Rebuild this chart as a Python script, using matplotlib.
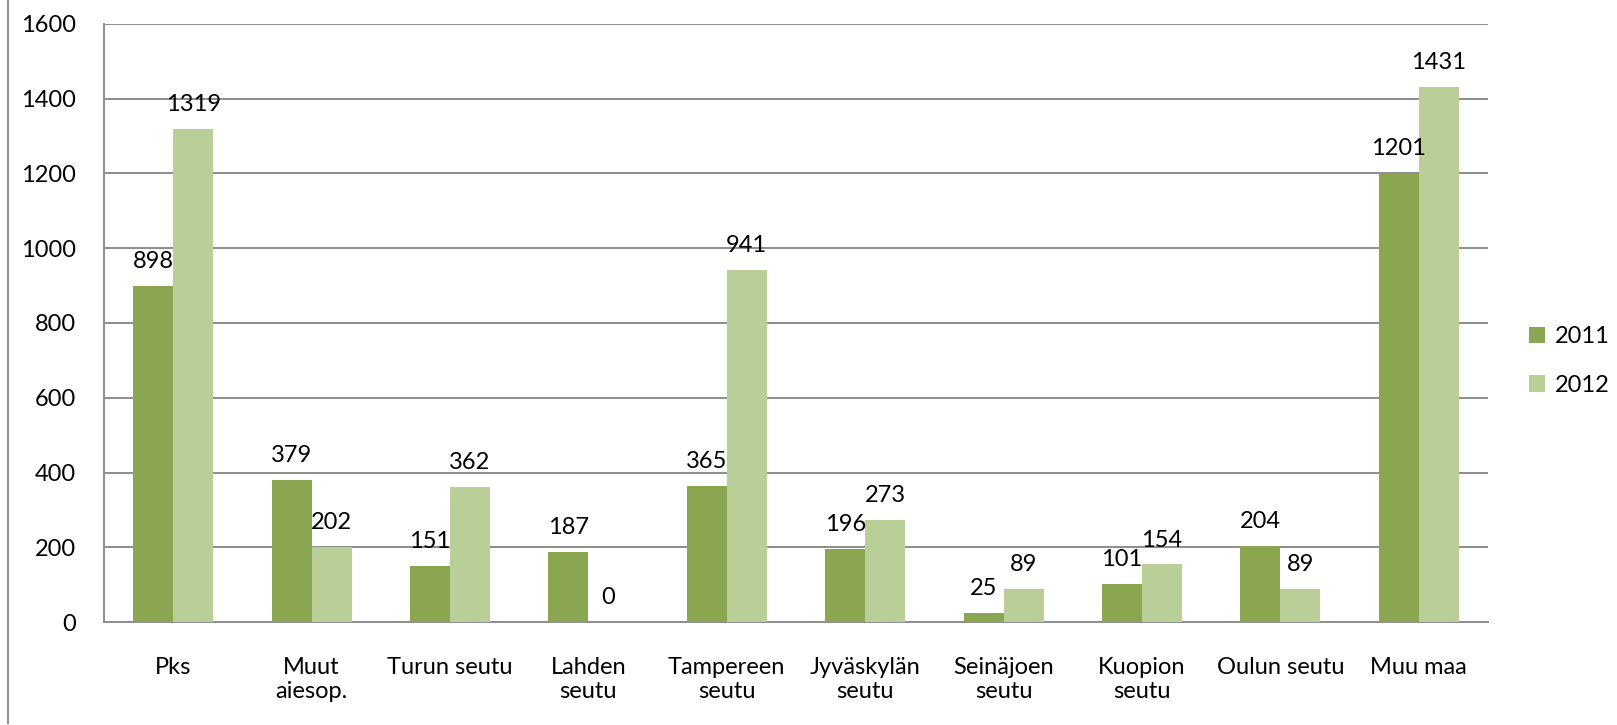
import numpy as np
import matplotlib
matplotlib.use('Agg')
import matplotlib.pyplot as plt
from matplotlib.lines import Line2D

plt.rcParams['font.family'] = ['Lato', 'DejaVu Sans']

# data
categories = ['Pks', 'Muut\naiesop.', 'Turun seutu', 'Lahden\nseutu', 'Tampereen\nseutu',
              'Jyväskylän\nseutu', 'Seinäjoen\nseutu', 'Kuopion\nseutu', 'Oulun seutu', 'Muu maa']
v2011 = [898, 379, 151, 187, 365, 196, 25, 101, 204, 1201]
v2012 = [1319, 202, 362, 0, 941, 273, 89, 154, 89, 1431]
series_names = ['2011', '2012']

c2011 = '#8AA650'
c2012 = '#BACF97'
fs = 17

fig = plt.figure(figsize=(16.17, 7.25), dpi=100)
ax = fig.add_axes([0.0643, 0.142, 0.9202 - 0.0643, 0.967 - 0.142])

x = np.arange(len(categories))
w = 0.289
b1 = ax.bar(x - w / 2, v2011, w, color=c2011, label=series_names[0], zorder=3)
b2 = ax.bar(x + w / 2, v2012, w, color=c2012, label=series_names[1], zorder=3)

# value labels above the bars
for bars, vals in [(b1, v2011), (b2, v2012)]:
    for r, v in zip(bars, vals):
        ax.annotate(str(v), (r.get_x() + r.get_width() / 2, v), xytext=(0, 10),
                    textcoords='offset points', ha='center', va='bottom', fontsize=fs)

ax.set_xlim(-0.5, len(categories) - 0.5)
ax.set_ylim(0, 1600)
ax.set_yticks(range(0, 1601, 200))
ax.set_xticks(x)
ax.set_xticklabels(categories, fontsize=fs, linespacing=1.2, va='top')
ax.tick_params(axis='y', length=0, pad=20, labelsize=fs)
ax.tick_params(axis='x', length=0, pad=25)
ax.grid(axis='y', color='#8c8c8c', linewidth=1.4, zorder=0)
for s in ['top', 'right']:
    ax.spines[s].set_visible(False)
for s in ['left', 'bottom']:
    ax.spines[s].set_color('#8c8c8c')
    ax.spines[s].set_linewidth(1.4)

fig.legend(handles=[b1, b2], loc='center left', bbox_to_anchor=(0.938, 0.502), frameon=False,
           fontsize=fs, handlelength=0.7, handleheight=0.7, handletextpad=0.4,
           labelspacing=1.15, borderpad=0)

# outer border line on the left
fig.add_artist(Line2D([0.005, 0.005], [0.003, 1.0], color='#8c8c8c', linewidth=1.4))

fig.savefig('out.png', dpi=100)
